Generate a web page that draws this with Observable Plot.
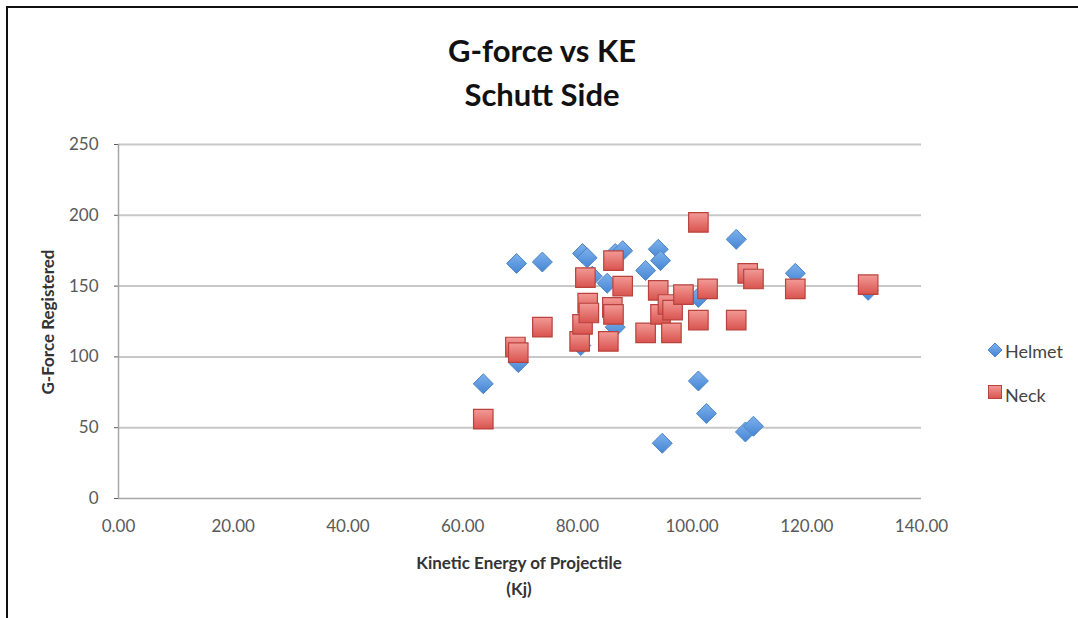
<!DOCTYPE html>
<html><head><meta charset="utf-8">
<script src="https://cdn.jsdelivr.net/npm/d3@7"></script>
<script src="https://cdn.jsdelivr.net/npm/@observablehq/plot@0.6"></script>
<style>
body{margin:0;background:#fff;font-family:Lato,"Open Sans",sans-serif;}
#wrap{position:relative;width:1078px;height:618px;overflow:hidden;background:#fff}
#frame{position:absolute;left:6px;top:6px;width:1100px;height:640px;border:2px solid #111;box-sizing:border-box;pointer-events:none}
#chart{position:absolute;left:0;top:0}
.t{position:absolute;white-space:nowrap;transform:translate(-50%,-50%);}
.title{font-weight:700;font-size:31px;color:#111;}
.axt{font-weight:700;font-size:17px;color:#333;}
.leg{position:absolute;font-size:18px;color:#444;transform:translateY(-50%);}
</style></head>
<body>
<div id="wrap">
  <div id="chart"></div>
  <div class="t title" style="left:542px;top:50px">G-force vs KE</div>
  <div class="t title" style="left:542px;top:94px">Schutt Side</div>
  <div class="t axt" style="left:47px;top:322px;transform:translate(-50%,-50%) rotate(-90deg)">G-Force Registered</div>
  <div class="t axt" style="left:519px;top:562px">Kinetic Energy of Projectile</div>
  <div class="t axt" style="left:519px;top:588px">(Kj)</div>
  <div id="legend"></div>
  <div id="frame"></div>
</div>
<script>
const seriesNames = ["Helmet", "Neck"];
const helmetKE = [63.6, 69.4, 69.7, 73.9, 80.6, 80.9, 81.7, 82.6, 85.2, 86.6, 86.6, 87.9, 91.9, 94.1, 94.5, 101.1, 107.7, 118.0, 130.7, 101.1, 102.5, 109.3, 110.7, 94.8];
const helmetG  = [81, 166, 96, 167, 108, 173, 170, 157, 152, 121, 173, 175, 161, 176, 168, 142, 183, 159, 147, 83, 60, 47, 51, 39];
const neckKE = [63.6, 69.2, 69.7, 73.9, 80.4, 80.9, 81.4, 81.8, 82.0, 85.4, 86.1, 86.3, 86.3, 87.9, 91.9, 94.1, 94.5, 95.8, 96.6, 96.4, 98.5, 101.1, 101.1, 102.7, 107.7, 109.7, 110.7, 118.0, 130.7];
const neckG  = [56, 107, 103, 121, 111, 123, 156, 138, 131, 111, 135, 130, 168, 150, 117, 147, 130, 137, 133, 117, 144, 126, 195, 148, 126, 159, 155, 148, 151];
const xTicks = [0, 20, 40, 60, 80, 100, 120, 140];
const yTicks = [0, 50, 100, 150, 200, 250];

const helmet = helmetKE.map((x, i) => ({x, y: helmetG[i], s: seriesNames[0]}));
const neck = neckKE.map((x, i) => ({x, y: neckG[i], s: seriesNames[1]}));

const chart = Plot.plot({
  width: 1078, height: 618,
  marginLeft: 118, marginRight: 157, marginTop: 144, marginBottom: 120,
  style: {fontFamily: "Lato, 'Open Sans', sans-serif", fontSize: "17px", color: "#595959", background: "transparent"},
  x: {domain: [0, 140], ticks: xTicks, tickFormat: d => d.toFixed(2), tickSize: 0, tickPadding: 21, label: null},
  y: {domain: [0, 250], ticks: yTicks, tickFormat: d => String(d), tickSize: 4, tickPadding: 16, label: null},
  marks: [
    Plot.gridY(yTicks.filter(d => d > 0), {stroke: "#c8c8c8", strokeWidth: 2, strokeOpacity: 1}),
    Plot.ruleY([0], {stroke: "#a6a6a6", strokeWidth: 1.5}),
    Plot.ruleX([0], {stroke: "#a6a6a6", strokeWidth: 1.5}),
    Plot.dot(helmet, {x: "x", y: "y", symbol: "diamond2", r: 9, fill: "url(#gBlue)", stroke: "#4c86c6", strokeWidth: 1}),
    Plot.dot(neck, {x: "x", y: "y", symbol: "square", r: 11, fill: "url(#gRed)", stroke: "#b9423d", strokeWidth: 1.2})
  ]
});
const ns = "http://www.w3.org/2000/svg";
const defs = document.createElementNS(ns, "defs");
defs.innerHTML = `
<linearGradient id="gBlue" x1="0" y1="0" x2="0" y2="1"><stop offset="0" stop-color="#7db1ec"/><stop offset="1" stop-color="#4685d3"/></linearGradient>
<linearGradient id="gRed" x1="0" y1="0" x2="0" y2="1"><stop offset="0" stop-color="#f29a96"/><stop offset="1" stop-color="#d9534e"/></linearGradient>`;
chart.insertBefore(defs, chart.firstChild);
document.getElementById("chart").appendChild(chart);

const leg = document.getElementById("legend");
leg.innerHTML = `
<svg style="position:absolute;left:986px;top:341px" width="18" height="18"><path d="M9,2L16,9L9,16L2,9Z" fill="url(#gBlue)" stroke="#4c86c6"/></svg>
<div class="leg" style="left:1005px;top:351px">${seriesNames[0]}</div>
<svg style="position:absolute;left:986px;top:383px" width="18" height="18"><rect x="2.5" y="2.5" width="13" height="13" fill="url(#gRed)" stroke="#b9423d"/></svg>
<div class="leg" style="left:1005px;top:395px">${seriesNames[1]}</div>`;
</script>
</body></html>
